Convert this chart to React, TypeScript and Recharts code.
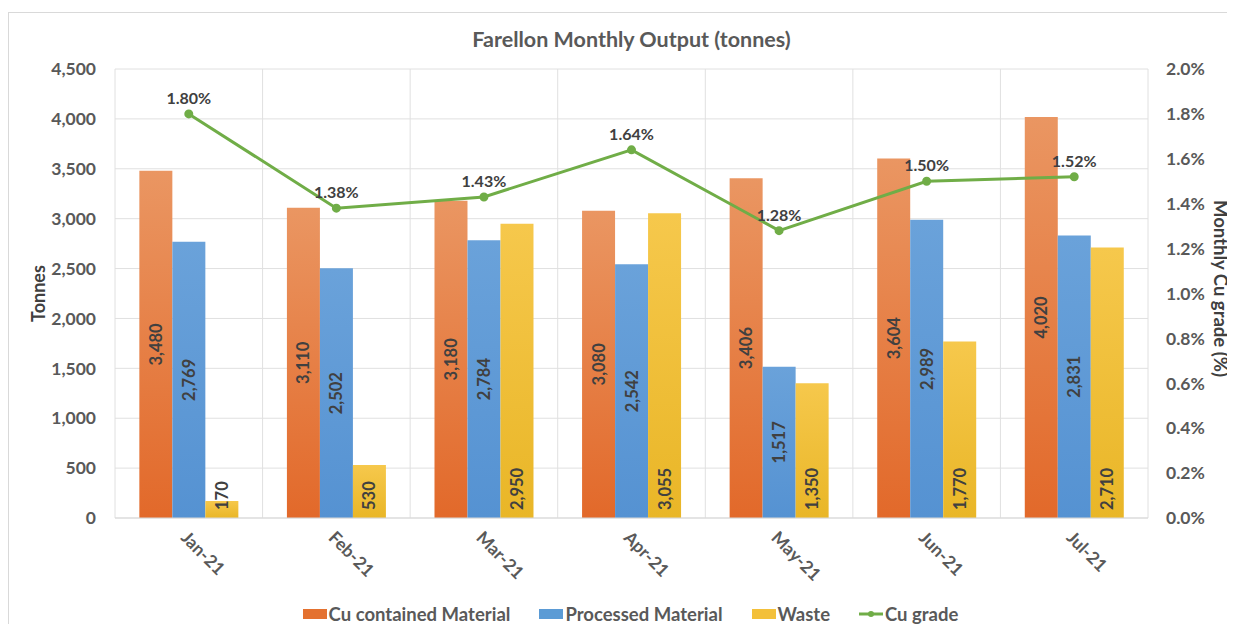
import React from 'react';
import { ComposedChart, Bar, Line, XAxis, YAxis, CartesianGrid, Legend, LabelList } from 'recharts';

const months = ['Jan-21', 'Feb-21', 'Mar-21', 'Apr-21', 'May-21', 'Jun-21', 'Jul-21'];
const cuContained = [3480, 3110, 3180, 3080, 3406, 3604, 4020];
const processed = [2769, 2502, 2784, 2542, 1517, 2989, 2831];
const waste = [170, 530, 2950, 3055, 1350, 1770, 2710];
const cuGrade = [1.8, 1.38, 1.43, 1.64, 1.28, 1.5, 1.52];

const tonnesTicks = [0, 500, 1000, 1500, 2000, 2500, 3000, 3500, 4000, 4500];
const gradeTicks = [0, 0.2, 0.4, 0.6, 0.8, 1.0, 1.2, 1.4, 1.6, 1.8, 2.0];

const data = months.map((month, i) => ({
  month,
  cu: cuContained[i],
  processed: processed[i],
  waste: waste[i],
  grade: cuGrade[i],
}));

const FONT = 'Lato, "Open Sans", sans-serif';
const TICK_COLOR = '#595959';
const LABEL_COLOR = '#404040';

const fmt = (v: number) => Number(v).toLocaleString('en-US');

const CenterLabel = (props: any) => {
  const x = Number(props.x), y = Number(props.y);
  const w = Number(props.width), h = Number(props.height);
  const cx = x + w / 2;
  const cy = y + h / 2;
  return (
    <text x={cx} y={cy} transform={`rotate(-90 ${cx} ${cy})`} textAnchor="middle" dominantBaseline="central"
      fill={LABEL_COLOR} fontSize={16.5} fontWeight={700} fontFamily={FONT}>
      {fmt(props.value)}
    </text>
  );
};

const BaseLabel = (props: any) => {
  const x = Number(props.x), y = Number(props.y);
  const w = Number(props.width), h = Number(props.height);
  const cx = x + w / 2;
  const by = y + h - 8;
  return (
    <text x={cx} y={by} transform={`rotate(-90 ${cx} ${by})`} textAnchor="start" dominantBaseline="central"
      fill={LABEL_COLOR} fontSize={16.5} fontWeight={700} fontFamily={FONT}>
      {fmt(props.value)}
    </text>
  );
};

const legendItems = [
  { name: 'Cu contained Material', color: '#E4712F', type: 'rect' },
  { name: 'Processed Material', color: '#5B9BD5', type: 'rect' },
  { name: 'Waste', color: '#F3C03A', type: 'rect' },
  { name: 'Cu grade', color: '#70AD47', type: 'line' },
];

const renderLegend = () => (
  <div style={{ display: 'flex', justifyContent: 'center', alignItems: 'center', height: 24, paddingLeft: 26, gap: 29 }}>
    {legendItems.map((it) => (
      <div key={it.name} style={{ display: 'flex', alignItems: 'center' }}>
        {it.type === 'rect' ? (
          <div style={{ width: 24, height: 10, background: it.color, marginRight: 2 }} />
        ) : (
          <svg width={24} height={10} style={{ marginRight: 2 }}>
            <line x1={0} y1={5} x2={24} y2={5} stroke={it.color} strokeWidth={3} />
            <circle cx={12} cy={5} r={3} fill={it.color} />
          </svg>
        )}
        <span style={{ fontFamily: FONT, fontWeight: 700, fontSize: 18.5, color: TICK_COLOR }}>{it.name}</span>
      </div>
    ))}
  </div>
);

export default function App() {
  return (
    <div style={{ position: 'relative', width: 1235, height: 632, margin: -8, overflow: 'hidden', background: '#fff' }}>
      <div style={{ position: 'absolute', left: 8, top: 12, width: 1240, height: 700, border: '1px solid #d9d9d9' }} />
      <div style={{ position: 'absolute', left: 0, top: 26, width: 1263, textAlign: 'center', fontFamily: FONT,
        fontWeight: 700, fontSize: 21.5, lineHeight: '26px', color: TICK_COLOR }}>
        Farellon Monthly Output (tonnes)
      </div>
      <div style={{ position: 'absolute', left: 0, top: 0 }}>
        <ComposedChart width={1235} height={632} data={data} barCategoryGap="16.5%" barGap={0}
          margin={{ top: 69, right: 0, left: 0, bottom: 6 }}>
          <defs>
            <linearGradient id="gOrange" x1="0" y1="0" x2="0" y2="1">
              <stop offset="0%" stopColor="#EA9662" />
              <stop offset="100%" stopColor="#E2692A" />
            </linearGradient>
            <linearGradient id="gBlue" x1="0" y1="0" x2="0" y2="1">
              <stop offset="0%" stopColor="#6AA2DA" />
              <stop offset="100%" stopColor="#5592D2" />
            </linearGradient>
            <linearGradient id="gYellow" x1="0" y1="0" x2="0" y2="1">
              <stop offset="0%" stopColor="#F6C84C" />
              <stop offset="100%" stopColor="#E9B627" />
            </linearGradient>
          </defs>
          <CartesianGrid yAxisId="left" stroke="#e0e0e0"
            verticalCoordinatesGenerator={({ offset }: any) =>
              months.map((_, i) => offset.left + (i * offset.width) / months.length).concat(offset.left + offset.width)} />
          <XAxis dataKey="month" height={84} tickLine={false} tickSize={0} tickMargin={12}
            axisLine={{ stroke: '#d9d9d9' }} angle={45} textAnchor="start" interval={0}
            tick={{ fontSize: 17.5, fontWeight: 700, fill: TICK_COLOR, fontFamily: FONT }} />
          <YAxis yAxisId="left" width={115} domain={[0, 4500]} ticks={tonnesTicks} axisLine={false} tickLine={false}
            tickSize={0} tickMargin={19} tickFormatter={fmt}
            tick={{ fontSize: 17.5, fontWeight: 700, fill: TICK_COLOR, fontFamily: FONT }}
            label={({ viewBox }: any) => {
              const lx = viewBox.x + 38;
              const ly = viewBox.y + viewBox.height / 2;
              return (
                <text x={lx} y={ly} transform={`rotate(-90 ${lx} ${ly})`} textAnchor="middle" dominantBaseline="central"
                  fill={LABEL_COLOR} fontSize={18} fontWeight={700} fontFamily={FONT}>Tonnes</text>
              );
            }} />
          <YAxis yAxisId="right" orientation="right" width={87} domain={[0, 2]} ticks={gradeTicks} axisLine={false}
            tickLine={false} tickSize={0} tickMargin={18} tickFormatter={(v: number) => `${v.toFixed(1)}%`}
            tick={{ fontSize: 17.5, fontWeight: 700, fill: TICK_COLOR, fontFamily: FONT }}
            label={({ viewBox }: any) => {
              const lx = viewBox.x + 73;
              const ly = viewBox.y + viewBox.height / 2 - 5;
              return (
                <text x={lx} y={ly} transform={`rotate(90 ${lx} ${ly})`} textAnchor="middle" dominantBaseline="central"
                  fill={LABEL_COLOR} fontSize={18.5} fontWeight={700} fontFamily={FONT}>Monthly Cu grade (%)</text>
              );
            }} />
          <Legend verticalAlign="bottom" content={renderLegend} wrapperStyle={{ height: 24 }} />
          <Bar yAxisId="left" dataKey="cu" name="Cu contained Material" fill="url(#gOrange)" isAnimationActive={false}>
            <LabelList dataKey="cu" content={CenterLabel} />
          </Bar>
          <Bar yAxisId="left" dataKey="processed" name="Processed Material" fill="url(#gBlue)" isAnimationActive={false}>
            <LabelList dataKey="processed" content={CenterLabel} />
          </Bar>
          <Bar yAxisId="left" dataKey="waste" name="Waste" fill="url(#gYellow)" isAnimationActive={false}>
            <LabelList dataKey="waste" content={BaseLabel} />
          </Bar>
          <Line yAxisId="right" dataKey="grade" name="Cu grade" stroke="#70AD47" strokeWidth={3}
            dot={{ r: 3, fill: '#70AD47', stroke: '#70AD47' }} activeDot={false} isAnimationActive={false}>
            <LabelList dataKey="grade" position="top" offset={10} formatter={(v: any) => `${Number(v).toFixed(2)}%`}
              fill={LABEL_COLOR} fontSize={16} fontWeight={700} fontFamily={FONT} />
          </Line>
        </ComposedChart>
      </div>
    </div>
  );
}
